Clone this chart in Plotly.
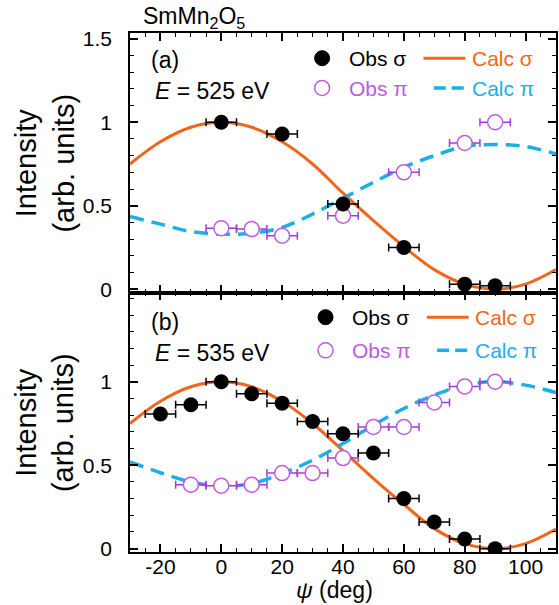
import plotly.graph_objects as go

# ---------------- data ----------------
psi_obs_a_sigma = [0, 20, 40, 60, 80, 90]
obs_a_sigma = [1.00, 0.93, 0.51, 0.25, 0.03, 0.02]
psi_obs_a_pi = [0, 10, 20, 40, 60, 80, 90]
obs_a_pi = [0.365, 0.36, 0.32, 0.44, 0.70, 0.876, 1.00]

psi_obs_b_sigma = [-20, -10, 0, 10, 20, 30, 40, 50, 60, 70, 80, 90]
obs_b_sigma = [0.807, 0.862, 1.00, 0.928, 0.872, 0.762, 0.689, 0.573, 0.30, 0.16, 0.058, 0.0]
psi_obs_b_pi = [-10, 0, 10, 20, 30, 40, 50, 60, 70, 80, 90]
obs_b_pi = [0.383, 0.377, 0.383, 0.453, 0.453, 0.543, 0.729, 0.729, 0.876, 0.972, 1.00]

psi_err = 5  # horizontal error (deg)

psi_calc = [-30, -20, -10, 0, 10, 20, 30, 40, 50, 60, 70, 80, 90, 100, 110]
calc_a_sigma = [0.75, 0.883, 0.97, 1.0, 0.97, 0.883, 0.75, 0.575, 0.41, 0.255, 0.117, 0.03, 0.0, 0.03, 0.117]
calc_a_pi = [0.435, 0.39, 0.345, 0.33, 0.335, 0.37, 0.45, 0.545, 0.64, 0.73, 0.80, 0.855, 0.867, 0.855, 0.81]
calc_b_sigma = [0.75, 0.883, 0.97, 1.0, 0.97, 0.883, 0.75, 0.587, 0.42, 0.265, 0.12, 0.03, 0.0, 0.03, 0.117]
calc_b_pi = [0.52, 0.455, 0.40, 0.375, 0.39, 0.45, 0.53, 0.63, 0.74, 0.84, 0.92, 0.98, 1.0, 0.98, 0.935]

x_tickvals = [-20, 0, 20, 40, 60, 80, 100]
x_ticktext = ["-20", "0", "20", "40", "60", "80", "100"]
y_tickvals_a = [0, 0.5, 1, 1.5]
y_ticktext_a = ["0", "0.5", "1", "1.5"]
y_tickvals_b = [0, 0.5, 1]
y_ticktext_b = ["0", "0.5", "1"]

# ---------------- styles ----------------
ORANGE = "#F2661C"
BLUE = "#1AAFE8"
PURPLE = "#C05ADF"
PURPLE_ERR = "#A23CD2"
FONT = "Liberation Sans, Arial, sans-serif"

fig = go.Figure()

def add_panel(xa, ya, cs, cp, px_s, os_, px_p, op):
    fig.add_trace(go.Scatter(x=psi_calc, y=cs, mode="lines", line=dict(color=ORANGE, width=3, shape="spline"),
                             xaxis=xa, yaxis=ya, showlegend=False, hoverinfo="skip"))
    fig.add_trace(go.Scatter(x=psi_calc, y=cp, mode="lines",
                             line=dict(color=BLUE, width=3.5, dash="14px,8px", shape="spline"),
                             xaxis=xa, yaxis=ya, showlegend=False, hoverinfo="skip"))
    fig.add_trace(go.Scatter(x=px_p, y=op, mode="markers",
                             marker=dict(size=15, color="white", line=dict(color=PURPLE, width=1.5)),
                             error_x=dict(type="constant", value=psi_err, color=PURPLE_ERR, thickness=1.5, width=4),
                             xaxis=xa, yaxis=ya, showlegend=False))
    fig.add_trace(go.Scatter(x=px_s, y=os_, mode="markers",
                             marker=dict(size=15, color="black"),
                             error_x=dict(type="constant", value=psi_err, color="black", thickness=1.5, width=4),
                             xaxis=xa, yaxis=ya, showlegend=False))

add_panel("x", "y", calc_a_sigma, calc_a_pi, psi_obs_a_sigma, obs_a_sigma, psi_obs_a_pi, obs_a_pi)
add_panel("x2", "y2", calc_b_sigma, calc_b_pi, psi_obs_b_sigma, obs_b_sigma, psi_obs_b_pi, obs_b_pi)

axis_common = dict(showline=True, linecolor="black", linewidth=1.5, mirror="allticks",
                   ticks="inside", ticklen=8, tickwidth=1.5, tickcolor="black",
                   showgrid=False, zeroline=False,
                   tickfont=dict(family=FONT, size=21, color="black"))

fig.update_layout(
    width=559, height=605,
    margin=dict(l=130, r=1, t=33, b=53),
    plot_bgcolor="white", paper_bgcolor="white",
    xaxis=dict(**axis_common, range=[-30, 110], domain=[0, 1], anchor="y",
               tickvals=x_tickvals, ticktext=x_ticktext, showticklabels=False,
               minor=dict(ticks="inside", ticklen=4, dtick=5, tick0=0, tickwidth=1.2, tickcolor="black")),
    xaxis2=dict(**axis_common, range=[-30, 110], domain=[0, 1], anchor="y2", matches="x",
                tickvals=x_tickvals, ticktext=x_ticktext, ticklabelstandoff=-5,
                minor=dict(ticks="inside", ticklen=4, dtick=5, tick0=0, tickwidth=1.2, tickcolor="black")),
    yaxis=dict(**axis_common, range=[-0.02, 1.535], domain=[0.5, 1], anchor="x",
               tickvals=y_tickvals_a, ticktext=y_ticktext_a, ticklabelstandoff=12,
               minor=dict(ticks="inside", ticklen=4, dtick=0.1, tick0=0, tickwidth=1.2, tickcolor="black")),
    yaxis2=dict(**axis_common, range=[-0.02, 1.535], domain=[0, 0.5], anchor="x2",
                tickvals=y_tickvals_b, ticktext=y_ticktext_b, ticklabelstandoff=12,
                minor=dict(ticks="inside", ticklen=4, dtick=0.1, tick0=0, tickwidth=1.2, tickcolor="black")),
)

ann = []
shapes = []
# y-axis titles
for yc in (0.75, 0.25):
    ann.append(dict(text="Intensity<br>(arb. units)", xref="paper", yref="paper", x=-0.2, y=yc,
                    textangle=-90, showarrow=False, xanchor="center", yanchor="middle",
                    font=dict(family=FONT, size=29, color="black")))
# x-axis title
ann.append(dict(text="<i>ψ</i> (deg)", xref="paper", yref="paper", x=0.479, y=-0.073,
                xanchor="center", yanchor="middle", showarrow=False,
                font=dict(family=FONT, size=23, color="black")))
# title
ann.append(dict(text="SmMn<sub>2</sub>O<sub>5</sub>", xref="paper", yref="paper", x=0.026, y=1.03,
                xanchor="left", yanchor="middle", showarrow=False,
                font=dict(family=FONT, size=23, color="black")))

def panel_text(xd, yd, lab, energy, y1, y2, dx):
    ann.append(dict(text=lab, xref=xd, yref=yd, x=0.045, y=y1, xanchor="left", yanchor="middle",
                    showarrow=False, font=dict(family=FONT, size=23, color="black")))
    ann.append(dict(text="<i>E</i> = %s eV" % energy, xref=xd, yref=yd, x=0.054, y=y2, xanchor="left",
                    yanchor="middle", showarrow=False, font=dict(family=FONT, size=23, color="black")))
    r1, r2 = (0.903, 0.788) if yd == "y domain" else (0.905, 0.777)
    # legend markers
    shapes.append(dict(type="circle", xref=xd, yref=yd, xsizemode="pixel", ysizemode="pixel",
                       xanchor=0.451 + dx, yanchor=r1, x0=-7.5, x1=7.5, y0=-7.5, y1=7.5,
                       fillcolor="black", line=dict(color="black", width=1)))
    shapes.append(dict(type="circle", xref=xd, yref=yd, xsizemode="pixel", ysizemode="pixel",
                       xanchor=0.451 + dx, yanchor=r2, x0=-7.5, x1=7.5, y0=-7.5, y1=7.5,
                       fillcolor="white", line=dict(color=PURPLE, width=1.5)))
    shapes.append(dict(type="line", xref=xd, yref=yd, x0=0.689 + dx, x1=0.787 + dx, y0=r1, y1=r1,
                       line=dict(color=ORANGE, width=3)))
    shapes.append(dict(type="line", xref=xd, yref=yd, x0=0.713 + dx, x1=0.787 + dx, y0=r2, y1=r2,
                       line=dict(color=BLUE, width=3.5, dash="12px,6px")))
    leg_font = dict(family=FONT, size=21)
    ann.append(dict(text="Obs σ", xref=xd, yref=yd, x=0.509 + dx, y=r1, xanchor="left", yanchor="middle",
                    showarrow=False, font=dict(leg_font, color="black")))
    ann.append(dict(text="Obs π", xref=xd, yref=yd, x=0.509 + dx, y=r2, xanchor="left", yanchor="middle",
                    showarrow=False, font=dict(leg_font, color=PURPLE)))
    ann.append(dict(text="Calc σ", xref=xd, yref=yd, x=0.797 + dx, y=r1, xanchor="left", yanchor="middle",
                    showarrow=False, font=dict(leg_font, color=ORANGE)))
    ann.append(dict(text="Calc π", xref=xd, yref=yd, x=0.797 + dx, y=r2, xanchor="left", yanchor="middle",
                    showarrow=False, font=dict(leg_font, color=BLUE)))

panel_text("x domain", "y domain", "(a)", "525", 0.896, 0.777, 0.0)
panel_text("x2 domain", "y2 domain", "(b)", "535", 0.886, 0.767, 0.008)

fig.update_layout(annotations=ann, shapes=shapes)
fig.write_html("out.html")
